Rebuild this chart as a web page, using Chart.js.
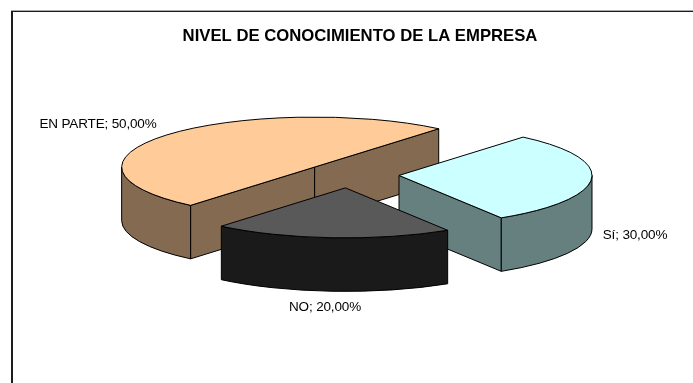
<!DOCTYPE html>
<html lang="es">
<head>
<meta charset="utf-8">
<title>Nivel de conocimiento de la empresa</title>
<style>
  html, body { margin: 0; padding: 0; background: #fff; }
  canvas { display: block; }
</style>
<script src="https://cdn.jsdelivr.net/npm/chart.js@4/dist/chart.umd.js"></script>
</head>
<body>
<canvas id="chart" width="693" height="383"></canvas>
<script>
// Survey shares, listed back to front so nearer slices paint over farther ones.
const categories = ['EN PARTE', 'Sí', 'NO'];
const shares = [50, 30, 20];
const topColors = ['#FFCC99', '#CCFFFF', '#595959'];
const wallColors = ['#846A50', '#668080', '#1A1A1A'];
const sliceOffsets = [25.4, 28.4, 29.3];
const chartTitle = 'NIVEL DE CONOCIMIENTO DE LA EMPRESA';

// Projection of the tilted pie.
const RADIUS_X = 193;
const RADIUS_Y = 50;
const DEPTH = 53.5;
const CENTER_SHIFT_X = -11;
const FIRST_SLICE_ROTATION = 220;
const LABEL_FONT = '13.5px "Liberation Sans", Arial, sans-serif';
const LABEL_SPACING = '-0.15px';
// Label centres relative to the pie centre.
const labelOffsets = [[-251, -50.5], [286, 60.5], [-24, 132.5]];

function sliceCenter(arc) {
  const scale = RADIUS_X / arc.outerRadius;
  const mid = (arc.startAngle + arc.endAngle) / 2;
  return {
    x: arc.x + CENTER_SHIFT_X + Math.cos(mid) * arc.options.offset * scale,
    y: arc.y + Math.sin(mid) * arc.options.offset * scale * RADIUS_Y / RADIUS_X
  };
}

function rimPoint(c, angle) {
  return { x: c.x + RADIUS_X * Math.cos(angle), y: c.y + RADIUS_Y * Math.sin(angle) };
}

function paint(ctx, fill, stroke, width) {
  ctx.fillStyle = fill;
  ctx.fill();
  ctx.lineWidth = width;
  ctx.strokeStyle = stroke;
  ctx.lineJoin = 'round';
  ctx.stroke();
}

function radialWall(ctx, c, angle, fill, stroke, width) {
  const p = rimPoint(c, angle);
  ctx.beginPath();
  ctx.moveTo(c.x, c.y);
  ctx.lineTo(p.x, p.y);
  ctx.lineTo(p.x, p.y + DEPTH);
  ctx.lineTo(c.x, c.y + DEPTH);
  ctx.closePath();
  paint(ctx, fill, stroke, width);
}

function curvedWall(ctx, c, from, to, fill, stroke, width) {
  const a = rimPoint(c, from);
  const b = rimPoint(c, to);
  ctx.beginPath();
  ctx.ellipse(c.x, c.y, RADIUS_X, RADIUS_Y, 0, from, to);
  ctx.lineTo(b.x, b.y + DEPTH);
  ctx.ellipse(c.x, c.y + DEPTH, RADIUS_X, RADIUS_Y, 0, to, from, true);
  ctx.lineTo(a.x, a.y);
  ctx.closePath();
  paint(ctx, fill, stroke, width);
}

// Pie controller that renders each arc as an extruded, foreshortened slice.
class Pie3DController extends Chart.PieController {
  draw() {
    const ctx = this.chart.ctx;
    this.getMeta().data.forEach((arc, i) => {
      const c = sliceCenter(arc);
      const s = arc.startAngle;
      const e = arc.endAngle;
      const stroke = arc.options.borderColor;
      const width = arc.options.borderWidth;
      const wall = wallColors[i];

      ctx.save();
      if (Math.cos(s) < 0) radialWall(ctx, c, s, wall, stroke, width);
      if (Math.cos(e) > 0) radialWall(ctx, c, e, wall, stroke, width);

      // The outer rim shows only on the half of the turn facing the viewer.
      const turn = Math.PI * 2;
      for (let k = -1; k <= 1; k++) {
        const from = Math.max(s, k * turn);
        const to = Math.min(e, k * turn + Math.PI);
        if (to > from) curvedWall(ctx, c, from, to, wall, stroke, width);
      }

      ctx.beginPath();
      ctx.moveTo(c.x, c.y);
      ctx.ellipse(c.x, c.y, RADIUS_X, RADIUS_Y, 0, s, e);
      ctx.closePath();
      paint(ctx, arc.options.backgroundColor, stroke, width);
      ctx.restore();
    });
  }
}
Pie3DController.id = 'pie3d';
Pie3DController.defaults = Chart.PieController.defaults;
Pie3DController.overrides = Chart.PieController.overrides;
Chart.register(Pie3DController);

const chartFrame = {
  id: 'chartFrame',
  beforeDraw(chart) {
    const ctx = chart.ctx;
    ctx.save();
    ctx.fillStyle = '#fff';
    ctx.fillRect(0, 0, chart.width, chart.height);
    ctx.fillStyle = '#aaa';
    ctx.fillRect(11, 10, chart.width - 11, 1);
    ctx.fillStyle = '#1c1c1c';
    ctx.fillRect(11, 11, chart.width - 11, 1);
    ctx.fillRect(11, 11, 2, chart.height - 11);
    ctx.restore();
  }
};

const sliceLabels = {
  id: 'sliceLabels',
  afterDatasetsDraw(chart) {
    const ctx = chart.ctx;
    const first = chart.getDatasetMeta(0).data[0];
    const cx = first.x + CENTER_SHIFT_X;
    const cy = first.y;
    ctx.save();
    ctx.font = LABEL_FONT;
    ctx.letterSpacing = LABEL_SPACING;
    ctx.fillStyle = '#000';
    ctx.textAlign = 'center';
    ctx.textBaseline = 'middle';
    categories.forEach((name, i) => {
      const text = name + '; ' + shares[i].toFixed(2).replace('.', ',') + '%';
      ctx.fillText(text, cx + labelOffsets[i][0], cy + labelOffsets[i][1]);
    });
    ctx.restore();
  }
};

new Chart(document.getElementById('chart'), {
  type: 'pie3d',
  data: {
    labels: categories,
    datasets: [{
      data: shares,
      backgroundColor: topColors,
      borderColor: '#000',
      borderWidth: 1,
      offset: sliceOffsets
    }]
  },
  options: {
    responsive: false,
    animation: false,
    events: [],
    rotation: FIRST_SLICE_ROTATION,
    layout: { padding: { left: 27, right: 0, top: 0, bottom: 84 } },
    plugins: {
      legend: { display: false },
      tooltip: { enabled: false },
      title: {
        display: true,
        text: chartTitle,
        color: '#000',
        font: { family: '"Liberation Sans", Arial, sans-serif', size: 16.7, weight: 'bold' },
        padding: { top: 26, bottom: 4 }
      }
    }
  },
  plugins: [chartFrame, sliceLabels]
});
</script>
</body>
</html>
